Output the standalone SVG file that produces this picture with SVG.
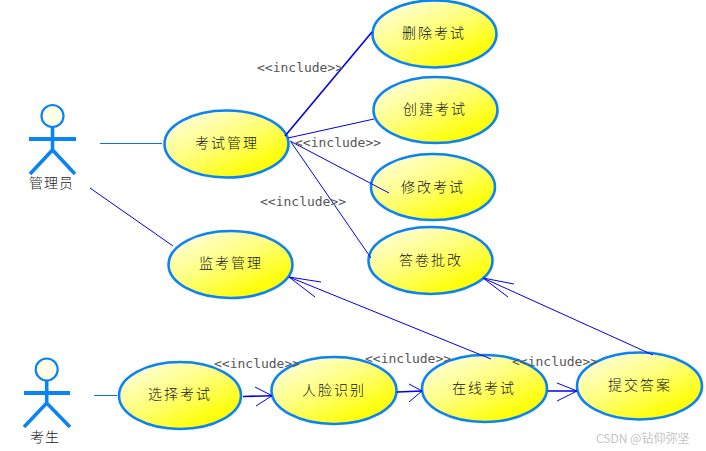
<svg xmlns="http://www.w3.org/2000/svg" width="706" height="451" viewBox="0 0 706 451">
<defs>
<linearGradient id="uc" x1="0.08" y1="0.05" x2="0.85" y2="0.95">
<stop offset="0" stop-color="#ffffe0"/>
<stop offset="0.45" stop-color="#ffff80"/>
<stop offset="0.85" stop-color="#ffff10"/>
<stop offset="1" stop-color="#ffff00"/>
</linearGradient>
</defs>
<style>
.uc{fill:url(#uc);stroke:#0a84f5;stroke-width:2.6}
.t{font-family:"Noto Sans CJK SC","Noto Sans",sans-serif;font-size:14px;font-weight:300;letter-spacing:2px;fill:#111}
.a{font-family:"Noto Sans CJK SC","Noto Sans",sans-serif;font-size:14px;font-weight:300;letter-spacing:1px;fill:#222}
.head{fill:#ffffe6;stroke:#0a84f5;stroke-width:2.2}
.limb{fill:none;stroke:#0a84f5;stroke-width:3.6}
.arm{fill:none;stroke:#0a84f5;stroke-width:4}
.inc{font-family:"DejaVu Sans Mono",monospace;font-size:13px;fill:#555}
.c{fill:none;stroke:#0000f0;stroke-width:1}
.c2{fill:none;stroke:#0000f0;stroke-width:1.6}
.as{fill:none;stroke:#0a70f0;stroke-width:1.2}
.wm{font-family:"Noto Sans CJK SC","Liberation Sans",sans-serif;font-size:12px;fill:#c4c4c4}
</style>
<rect width="706" height="451" fill="#ffffff"/>
<g id="actor-admin">
<circle class="head" cx="52.5" cy="116" r="11"/>
<path class="limb" d="M52.5 127V150M30 174L52.5 150L75 174"/>
<path class="arm" d="M29 139H76"/>
<text class="a" x="29" y="188">管理员</text>
</g>
<g id="actor-student">
<circle class="head" cx="46.7" cy="369.5" r="11"/>
<path class="limb" d="M46.7 381V403M24 427L46.7 403L70 427"/>
<path class="arm" d="M24 393H70"/>
<text class="a" x="30" y="442">考生</text>
</g>
<g id="uc-exam-manage"><ellipse class="uc" cx="226.5" cy="144" rx="62" ry="33.5"/><text class="t" x="195" y="148">考试管理</text></g>
<g id="uc-delete"><ellipse class="uc" cx="434.5" cy="34" rx="62" ry="33.5"/><text class="t" x="402" y="38">删除考试</text></g>
<g id="uc-create"><ellipse class="uc" cx="435.5" cy="110" rx="62" ry="33"/><text class="t" x="403" y="114">创建考试</text></g>
<g id="uc-edit"><ellipse class="uc" cx="433" cy="187" rx="62" ry="33"/><text class="t" x="401" y="192">修改考试</text></g>
<g id="uc-grade"><ellipse class="uc" cx="430.5" cy="260.5" rx="62" ry="33.5"/><text class="t" x="399" y="265">答卷批改</text></g>
<g id="uc-proctor"><ellipse class="uc" cx="230.5" cy="264.5" rx="62" ry="33.5"/><text class="t" x="199" y="268">监考管理</text></g>
<g id="uc-select"><ellipse class="uc" cx="180" cy="395.5" rx="61" ry="33.5"/><text class="t" x="148" y="399">选择考试</text></g>
<g id="uc-face"><ellipse class="uc" cx="334" cy="390.5" rx="62.5" ry="33.5"/><text class="t" x="302" y="395">人脸识别</text></g>
<g id="uc-online"><ellipse class="uc" cx="484.5" cy="388.5" rx="62.5" ry="33.5"/><text class="t" x="452" y="393">在线考试</text></g>
<g id="uc-submit"><ellipse class="uc" cx="639.5" cy="386" rx="62.5" ry="33.5"/><text class="t" x="608" y="390">提交答案</text></g>
<g id="connectors">
<path class="as" d="M100 143.5H162M94 395.5H117"/>
<path class="c" d="M90 188L173 246"/>
<path class="c2" d="M285 136L372 32"/>
<path class="c" d="M288 138L374 119M290 141L389 193M291 142L371 258"/>
<path class="c2" d="M243 396.5L272 395.7M397 392L422 391M548 391L577 391"/>
<path class="c" d="M255 387L272 395.7L256 406M409 384L422 391L409 402M557 383L577 391L557 401"/>
<path class="c" d="M491 359L289 277M321 282L289 277L315 297M653 355L483 278M514 284L483 278L508 297"/>
</g>
<g id="labels">
<text class="inc" x="257" y="72">&lt;&lt;include&gt;&gt;</text>
<text class="inc" x="295" y="147">&lt;&lt;include&gt;&gt;</text>
<text class="inc" x="260" y="206">&lt;&lt;include&gt;&gt;</text>
<text class="inc" x="214" y="368">&lt;&lt;include&gt;&gt;</text>
<text class="inc" x="365" y="363">&lt;&lt;include&gt;&gt;</text>
<text class="inc" x="512" y="366">&lt;&lt;include&gt;&gt;</text>
</g>
<text class="wm" x="596" y="443">CSDN @钻仰弥坚</text>
</svg>
